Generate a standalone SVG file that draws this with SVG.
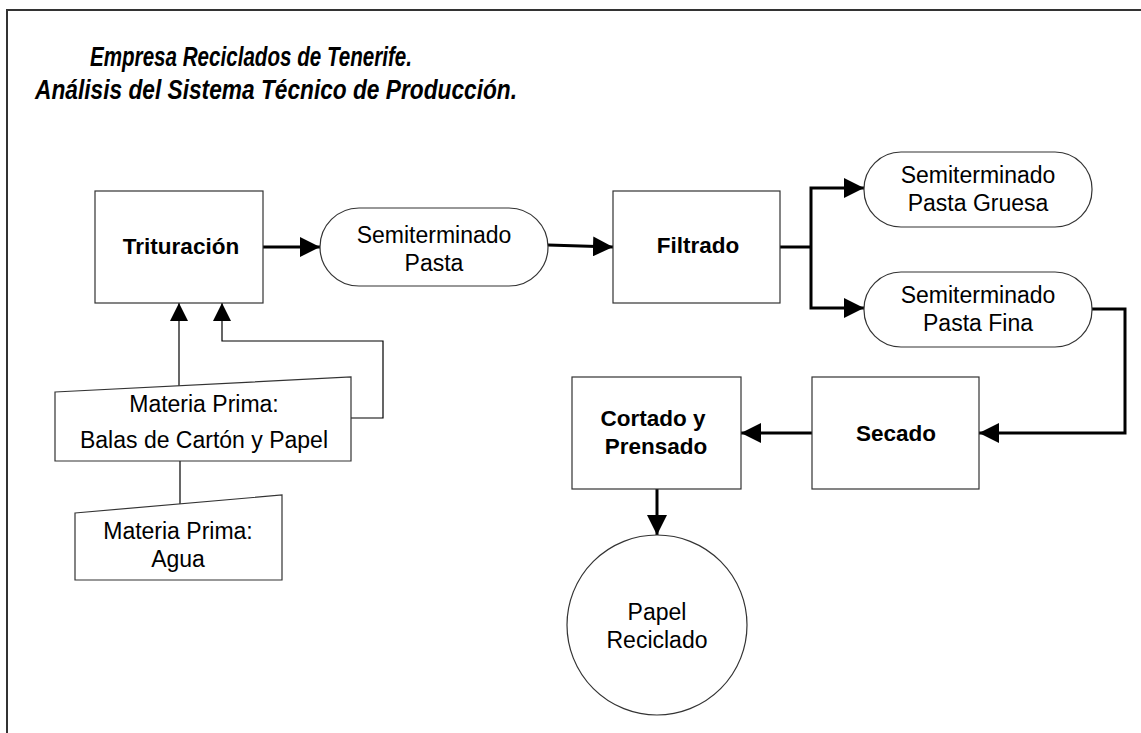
<svg xmlns="http://www.w3.org/2000/svg" width="1141" height="733" viewBox="0 0 1141 733">
<style>
.box{fill:#fff;stroke:#333;stroke-width:1.2}
.t{font-family:"Liberation Sans",Arial,sans-serif;font-size:23px;fill:#000;text-anchor:middle}
.b{font-family:"Liberation Sans",Arial,sans-serif;font-size:22.5px;font-weight:bold;fill:#000;text-anchor:middle}
.title{font-family:"Liberation Sans",Arial,sans-serif;font-size:27px;font-weight:bold;font-style:italic;fill:#000}
.thick{fill:none;stroke:#000;stroke-width:3}
.thin{fill:none;stroke:#000;stroke-width:1.2}
</style>
<defs>
<marker id="ah" viewBox="0 0 20 20" refX="20" refY="10" markerWidth="20" markerHeight="20" markerUnits="userSpaceOnUse" orient="auto">
<path d="M0,0 L20,10 L0,20 z" fill="#000"/>
</marker>
<marker id="ahs" viewBox="0 0 18 18" refX="18" refY="9" markerWidth="18" markerHeight="18" markerUnits="userSpaceOnUse" orient="auto">
<path d="M0,0 L18,9 L0,18 z" fill="#000"/>
</marker>
</defs>
<rect x="0" y="0" width="1141" height="733" fill="#fff"/>
<path d="M7,733 V10 H1141" fill="none" stroke="#333" stroke-width="2"/>
<g id="title">
<text class="title" x="90" y="66" textLength="322" lengthAdjust="spacingAndGlyphs">Empresa Reciclados de Tenerife.</text>
<text class="title" x="35" y="99" textLength="482" lengthAdjust="spacingAndGlyphs">Análisis del Sistema Técnico de Producción.</text>
</g>
<g id="connectors">
<path class="thick" d="M263,247 H320" marker-end="url(#ah)"/>
<path class="thick" d="M548,245 L613,247" marker-end="url(#ah)"/>
<path class="thick" d="M780,247 H811"/>
<path class="thick" d="M811,247 V188 H864" marker-end="url(#ah)"/>
<path class="thick" d="M811,247 V308 H864" marker-end="url(#ah)"/>
<path class="thick" d="M1092,309 H1125 V433 H979" marker-end="url(#ah)"/>
<path class="thick" d="M812,433 H741" marker-end="url(#ah)"/>
<path class="thick" d="M657,489 V535" marker-end="url(#ah)"/>
<path class="thin" d="M179,386 V303" marker-end="url(#ahs)"/>
<path class="thin" d="M351,418 H383 V341 H222 V303" marker-end="url(#ahs)"/>
<path class="thin" d="M180,461 V504"/>
</g>
<g id="trituracion">
<rect class="box" x="95" y="191" width="168" height="112"/>
<text class="b" x="181" y="254">Trituración</text>
</g>
<g id="semi-pasta">
<rect class="box" x="320" y="208" width="228" height="78" rx="39" ry="39"/>
<text class="t" x="434" y="243">Semiterminado</text>
<text class="t" x="434" y="271">Pasta</text>
</g>
<g id="filtrado">
<rect class="box" x="613" y="191" width="167" height="112"/>
<text class="b" x="698" y="253">Filtrado</text>
</g>
<g id="semi-gruesa">
<rect class="box" x="864" y="152" width="228" height="75" rx="37" ry="37"/>
<text class="t" x="978" y="183">Semiterminado</text>
<text class="t" x="978" y="211">Pasta Gruesa</text>
</g>
<g id="semi-fina">
<rect class="box" x="864" y="272" width="228" height="75" rx="37" ry="37"/>
<text class="t" x="978" y="303">Semiterminado</text>
<text class="t" x="978" y="331">Pasta Fina</text>
</g>
<g id="secado">
<rect class="box" x="812" y="377" width="167" height="112"/>
<text class="b" x="896" y="441">Secado</text>
</g>
<g id="cortado">
<rect class="box" x="572" y="377" width="169" height="112"/>
<text class="b" x="653" y="426">Cortado y</text>
<text class="b" x="656" y="454">Prensado</text>
</g>
<g id="papel">
<circle class="box" cx="657" cy="625" r="90"/>
<text class="t" x="657" y="620">Papel</text>
<text class="t" x="657" y="648">Reciclado</text>
</g>
<g id="balas">
<path class="box" d="M55,392 L351,377 V461 H55 Z"/>
<text class="t" x="204" y="412">Materia Prima:</text>
<text class="t" x="204" y="448">Balas de Cartón y Papel</text>
</g>
<g id="agua">
<path class="box" d="M75,513 L282,495 V580 H75 Z"/>
<text class="t" x="178" y="539">Materia Prima:</text>
<text class="t" x="178" y="567">Agua</text>
</g>
</svg>
